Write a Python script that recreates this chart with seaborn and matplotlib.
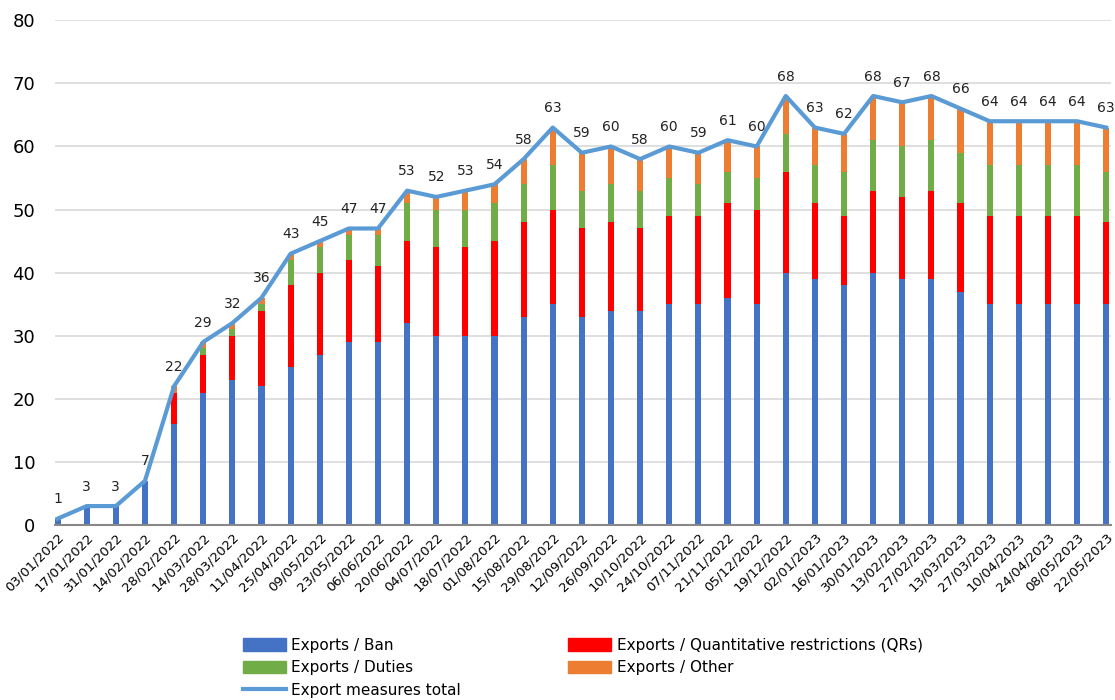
import numpy as np
import pandas as pd
import seaborn as sns
from matplotlib import pyplot as plt
from matplotlib.patches import Patch
from matplotlib.lines import Line2D

dates = ['03/01/2022', '17/01/2022', '31/01/2022', '14/02/2022', '28/02/2022', '14/03/2022',
         '28/03/2022', '11/04/2022', '25/04/2022', '09/05/2022', '23/05/2022', '06/06/2022',
         '20/06/2022', '04/07/2022', '18/07/2022', '01/08/2022', '15/08/2022', '29/08/2022',
         '12/09/2022', '26/09/2022', '10/10/2022', '24/10/2022', '07/11/2022', '21/11/2022',
         '05/12/2022', '19/12/2022', '02/01/2023', '16/01/2023', '30/01/2023', '13/02/2023',
         '27/02/2023', '13/03/2023', '27/03/2023', '10/04/2023', '24/04/2023', '08/05/2023',
         '22/05/2023']
ban = [1, 3, 3, 7, 16, 21, 23, 22, 25, 27, 29, 29, 32, 30, 30, 30, 33, 35, 33, 34, 34, 35, 35, 36,
       35, 40, 39, 38, 40, 39, 39, 37, 35, 35, 35, 35, 35]
qrs = [0, 0, 0, 0, 5, 6, 7, 12, 13, 13, 13, 12, 13, 14, 14, 15, 15, 15, 14, 14, 13, 14, 14, 15,
       15, 16, 12, 11, 13, 13, 14, 14, 14, 14, 14, 14, 13]
duties = [0, 0, 0, 0, 0, 1, 1, 1, 4, 4, 4, 5, 6, 6, 6, 6, 6, 7, 6, 6, 6, 6, 5, 5,
          5, 6, 6, 7, 8, 8, 8, 8, 8, 8, 8, 8, 8]
other = [0, 0, 0, 0, 1, 1, 1, 1, 1, 1, 1, 1, 2, 2, 3, 3, 4, 6, 6, 6, 5, 5, 5, 5,
         5, 6, 6, 6, 7, 7, 7, 7, 7, 7, 7, 7, 7]

C_BAN = '#4472C4'
C_QR = '#FF0000'
C_DUT = '#70AD47'
C_OTH = '#ED7D31'
C_TOT = '#5B9BD5'

df = pd.DataFrame({'date': dates, 'ban': ban, 'qrs': qrs, 'duties': duties, 'other': other})
df['c1'] = df['ban']
df['c2'] = df['c1'] + df['qrs']
df['c3'] = df['c2'] + df['duties']
df['c4'] = df['c3'] + df['other']
df['total'] = df['c4']

fig = plt.figure(figsize=(11.15, 7), dpi=100)
ax = fig.add_axes([0.049, 0.25, 0.947, 0.721])

# stacked bars: draw cumulative heights tallest first
for col, c in [('c4', C_OTH), ('c3', C_DUT), ('c2', C_QR), ('c1', C_BAN)]:
    sns.barplot(data=df, x='date', y=col, color=c, width=0.21, saturation=1, ax=ax, zorder=2)

xs = np.arange(len(df))
sns.lineplot(x=xs, y=df['total'].values, color=C_TOT, linewidth=3, ax=ax, zorder=3)
for x, t in zip(xs, df['total']):
    ax.annotate(str(t), (x, t), xytext=(0, 9), textcoords='offset points',
                ha='center', va='bottom', fontsize=10, color='#222222')

ax.set_ylim(0, 80)
ax.set_xlim(-0.1, len(df) - 0.85)
ax.set_yticks(range(0, 81, 10))
ax.tick_params(axis='y', labelsize=13, length=0, pad=14)
ax.tick_params(axis='x', length=0, labelsize=9.5, pad=4)
ax.set_xticks(xs)
ax.set_xticklabels(dates, rotation=45, ha='right', rotation_mode='anchor')
ax.grid(axis='y', color='#d9d9d9', linewidth=1.2, zorder=0)
ax.set_axisbelow(True)
for s in ['top', 'right', 'left']:
    ax.spines[s].set_visible(False)
ax.spines['bottom'].set_color('#888888')
ax.spines['bottom'].set_linewidth(1.5)
ax.set_xlabel('')
ax.set_ylabel('')

handles = [Patch(color=C_BAN), Patch(color=C_QR), Patch(color=C_DUT), Patch(color=C_OTH),
           Line2D([], [], color=C_TOT, linewidth=3)]
labels = ['Exports / Ban', 'Exports / Quantitative restrictions (QRs)', 'Exports / Duties',
          'Exports / Other', 'Export measures total']
# order so that column-major layout gives rows: ban|qr, duties|other, total
order = [0, 2, 4, 1, 3]
fig.legend([handles[i] for i in order], [labels[i] for i in order], ncol=2,
           loc='upper left', bbox_to_anchor=(0.211, 0.1), frameon=False, fontsize=11,
           handlelength=2.8, handleheight=0.9, handletextpad=0.35, columnspacing=7.05,
           labelspacing=0.5, borderpad=0)

fig.savefig('out.png', dpi=100)
